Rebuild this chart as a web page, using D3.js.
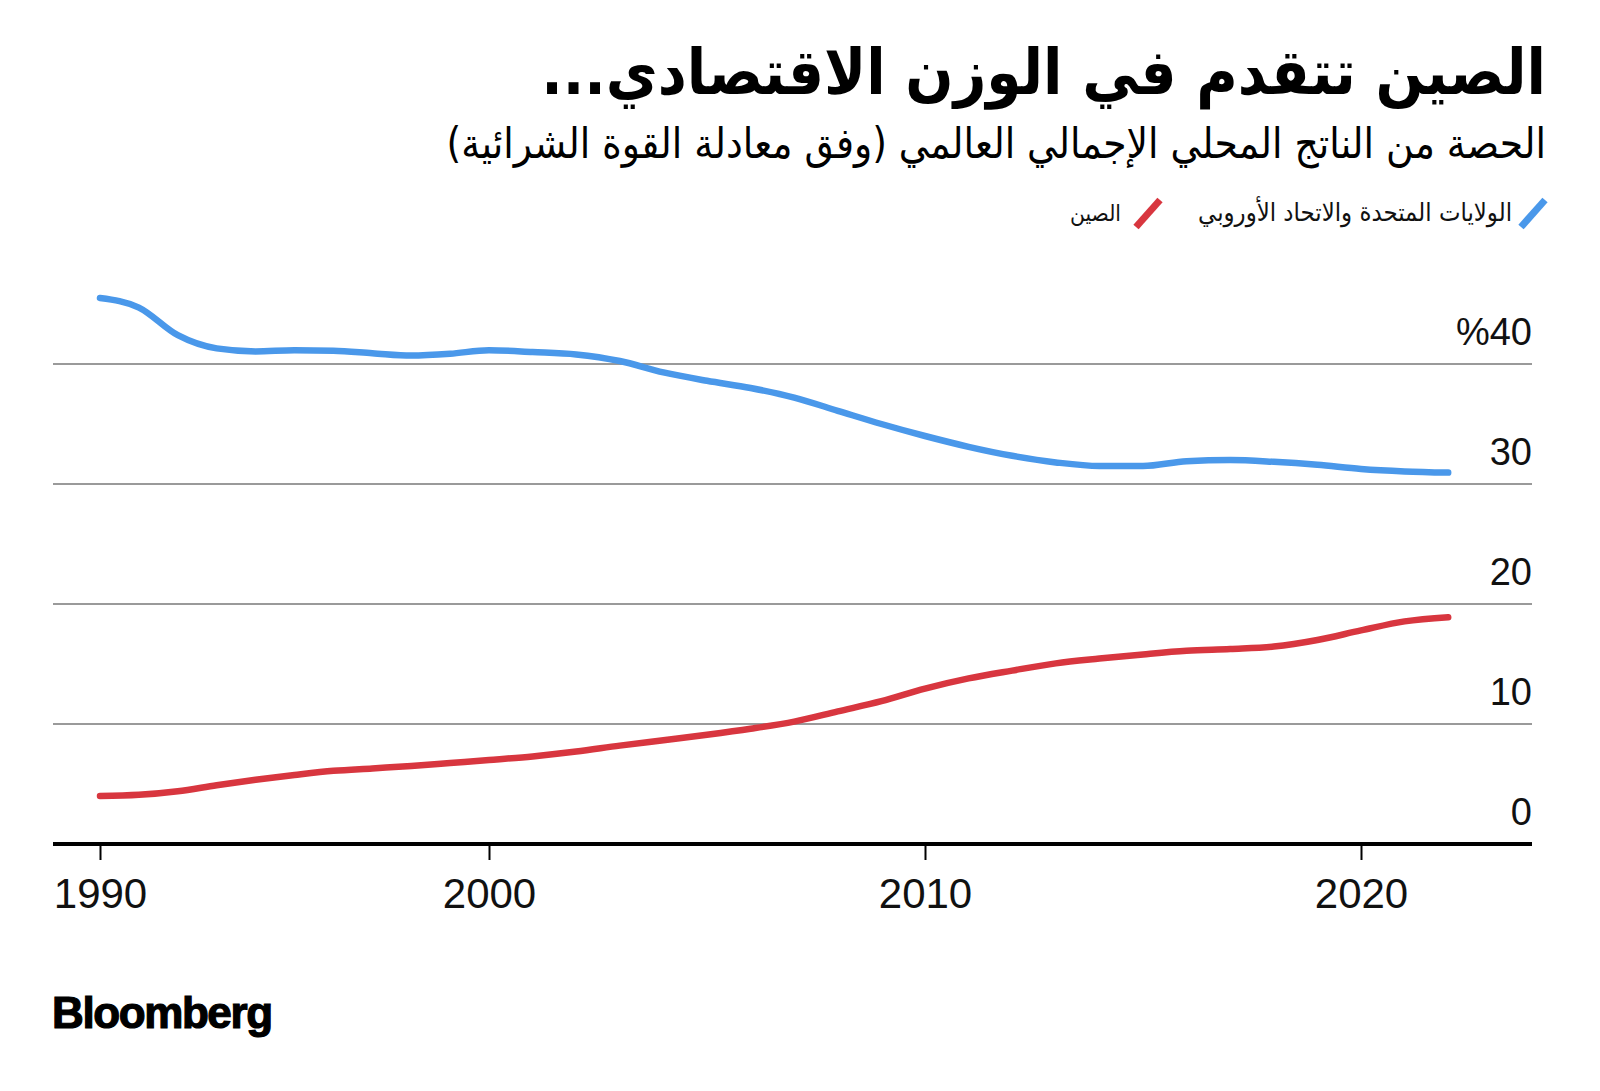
<!DOCTYPE html>
<html><head><meta charset="utf-8">
<script src="https://cdn.jsdelivr.net/npm/d3@7"></script>
<style>body{margin:0;background:#fff;} svg{display:block;}</style>
</head><body><svg id="c" width="1600" height="1091"></svg>
<script>
// ---- data ----
const years = [1990,1991,1992,1993,1994,1995,1996,1997,1998,1999,2000,2001,2002,2003,2004,2005,2006,2007,2008,2009,2010,2011,2012,2013,2014,2015,2016,2017,2018,2019,2020,2021,2022];
const usEu  = [45.5,44.7,42.4,41.3,41.05,41.15,41.1,40.9,40.7,40.85,41.15,41.0,40.8,40.25,39.3,38.6,38.0,37.2,36.1,35.0,34.0,33.1,32.35,31.8,31.5,31.5,31.9,32.0,31.85,31.6,31.25,31.05,30.95];
const china = [4.0,4.1,4.4,4.9,5.35,5.75,6.1,6.3,6.5,6.75,7.0,7.3,7.7,8.2,8.65,9.1,9.6,10.2,11.05,11.9,12.95,13.8,14.45,15.05,15.45,15.8,16.1,16.25,16.45,17.0,17.8,18.55,18.9];
const seriesNames = ["الولايات المتحدة والاتحاد الأوروبي", "الصين"];
const xTickValues = [1990, 2000, 2010, 2020];
const yTickValues = [0, 10, 20, 30, 40];
const yTickLabels = ["0", "10", "20", "30", "%40"];
const titleText = "الصين تتقدم في الوزن الاقتصادي...";
const subtitleText = "الحصة من الناتج المحلي الإجمالي العالمي (وفق معادلة القوة الشرائية)";
const sourceText = "Bloomberg";

// ---- layout ----
const BLUE = "#4a98ea", RED = "#d8363f";
const svg = d3.select("#c");
const left = 53, right = 1532;
const x = d3.scaleLinear().domain([1990, 2000, 2020]).range([100, 489, 1361]);
const y = d3.scaleLinear().domain([0, 40]).range([844, 364]);
const arabic = "'DejaVu Sans Condensed','DejaVu Sans',sans-serif";
const latin = "'Liberation Sans', Arial, Helvetica, sans-serif";

function fit(sel, target) {
  const w = sel.node().getComputedTextLength();
  const fs = parseFloat(sel.attr("font-size"));
  sel.attr("font-size", fs * target / w);
}

// title
const t = svg.append("text").attr("x", 1546).attr("y", 94)
  .attr("font-family", arabic).attr("font-weight", 700).attr("font-size", 60)
  .style("direction", "rtl").attr("text-anchor", "start")
  .attr("fill", "#000").text(titleText);
fit(t, 1005);
const st = svg.append("text").attr("x", 1546).attr("y", 158)
  .attr("font-family", arabic).attr("font-weight", 400).attr("font-size", 32)
  .style("direction", "rtl").attr("text-anchor", "start")
  .attr("fill", "#000").text(subtitleText);
fit(st, 1100);

// legend
const legend = [
  {name: seriesNames[0], color: BLUE, sx: 1533, tx: 1512, w: 314},
  {name: seriesNames[1], color: RED, sx: 1148, tx: 1121, w: 51}
];
legend.forEach(d => {
  svg.append("line").attr("x1", d.sx - 12).attr("y1", 227).attr("x2", d.sx + 12).attr("y2", 200)
    .attr("stroke", d.color).attr("stroke-width", 7);
  const lt = svg.append("text").attr("x", d.tx).attr("y", 221)
    .attr("font-family", arabic).attr("font-size", 20)
    .style("direction", "rtl").attr("text-anchor", "start").attr("fill", "#111").text(d.name);
  fit(lt, d.w);
});

// gridlines + y labels
const g = svg.append("g");
g.selectAll("line.grid").data(yTickValues.filter(v => v > 0)).join("line")
  .attr("class", "grid").attr("x1", left).attr("x2", right)
  .attr("y1", d => y(d)).attr("y2", d => y(d))
  .attr("stroke", "#9a9a9a").attr("stroke-width", 2);
g.selectAll("text.ylab").data(yTickValues).join("text")
  .attr("class", "ylab").attr("x", right).attr("y", d => y(d) - 19)
  .attr("text-anchor", "end").attr("font-family", latin).attr("font-size", 38)
  .attr("fill", "#111").text((d, i) => yTickLabels[i]);

// x axis
const xAxis = d3.axisBottom(x).tickValues(xTickValues).tickFormat(d3.format("d")).tickSize(16).tickPadding(18);
const ax = svg.append("g").attr("transform", `translate(0,${y(0)})`).call(xAxis);
ax.select(".domain").remove();
ax.selectAll(".tick line").attr("stroke", "#000").attr("stroke-width", 2);
ax.selectAll(".tick text").attr("font-family", latin).attr("font-size", 42).attr("fill", "#111");
svg.append("line").attr("x1", left).attr("x2", right).attr("y1", y(0)).attr("y2", y(0))
  .attr("stroke", "#000").attr("stroke-width", 4);

// lines
const line = d3.line().x((d, i) => x(years[i])).y(d => y(d)).curve(d3.curveMonotoneX);
[[usEu, BLUE], [china, RED]].forEach(([vals, col]) => {
  svg.append("path").attr("d", line(vals)).attr("fill", "none")
    .attr("stroke", col).attr("stroke-width", 6.5).attr("stroke-linecap", "round").attr("stroke-linejoin", "round");
});

// source
svg.append("text").attr("x", 52).attr("y", 1028).attr("font-family", latin)
  .attr("font-weight", 700).attr("font-size", 44).attr("letter-spacing", -1.4)
  .attr("stroke", "#000").attr("stroke-width", 1.2)
  .attr("fill", "#000").text(sourceText);
</script></body></html>
